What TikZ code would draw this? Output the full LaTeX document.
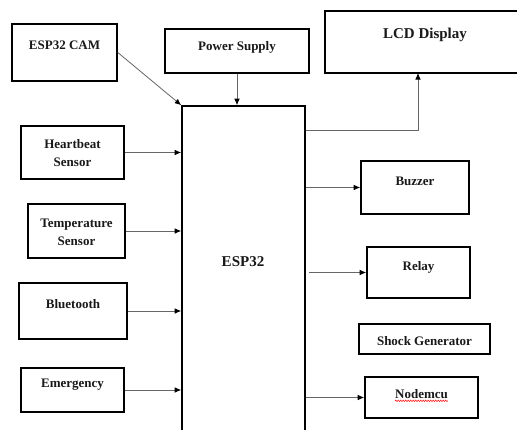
\documentclass[tikz,border=0pt]{standalone}
\usepackage{fontspec}
\setmainfont{Liberation Serif}
\usetikzlibrary{arrows.meta,decorations.pathmorphing}
\begin{document}
\begin{tikzpicture}[x=1pt,y=-1pt,
  box/.style={draw=black,line width=1.6pt,rectangle,inner sep=0pt},
  txt/.style={font=\fontsize{13}{15}\selectfont\bfseries,align=center,inner sep=0pt,text=black!90},
  bigtxt/.style={txt,font=\fontsize{15}{17}\selectfont\bfseries},
  arr/.style={draw=black!60,line width=0.8pt,-{Latex[length=6.5pt,width=5.5pt,fill=black,color=black]}}]
\useasboundingbox (0,0) rectangle (517,429);
\clip (0,0) rectangle (517,429);
\fill[white] (0,0) rectangle (517,429);
% boxes
\node[box,minimum width=105,minimum height=57] (cam) at (64.5,52.5) {};
\node[box,minimum width=144,minimum height=44] (power) at (237,51) {};
\node[box,minimum width=200,minimum height=62] (lcd) at (425,42) {};
\node[box,minimum width=123,minimum height=334] (esp) at (243.5,273) {};
\node[box,minimum width=103,minimum height=53] (hb) at (72.5,152.5) {};
\node[box,minimum width=97,minimum height=54] (temp) at (76.5,231) {};
\node[box,minimum width=108,minimum height=56] (bt) at (73,311) {};
\node[box,minimum width=103,minimum height=44] (em) at (72.5,390) {};
\node[box,minimum width=108,minimum height=53] (buz) at (415,187.5) {};
\node[box,minimum width=103,minimum height=51] (rel) at (418.5,272.5) {};
\node[box,minimum width=131,minimum height=30] (shock) at (424.5,339) {};
\node[box,minimum width=113,minimum height=41] (nmcu) at (421.5,397.5) {};
% texts
\node[txt] (camt) at (64.5,45) {ESP32 CAM};
\node[txt] (powert) at (237,47) {Power Supply};
\node[bigtxt] (lcdt) at (425,35) {LCD Display};
\node[bigtxt] (espt) at (243,262) {ESP32};
\node[txt] (hbt) at (72.5,153) {Heartbeat\\[3pt]Sensor};
\node[txt] (tempt) at (76.5,232) {Temperature\\[3pt]Sensor};
\node[txt] (btt) at (73,304) {Bluetooth};
\node[txt] (emt) at (72.5,385) {Emergency};
\node[txt] (buzt) at (415,181) {Buzzer};
\node[txt] (relt) at (418.5,267) {Relay};
\node[txt] (shockt) at (424.5,341) {Shock Generator};
\node[txt] (nmcut) at (421.5,394) {Nodemcu};
\draw[red,line width=0.5pt,decorate,decoration={snake,amplitude=0.7pt,segment length=2.5pt}]
  (nmcut.south west) ++(0,2) -- ++(53,0);
% connectors
\coordinate (lcdin) at (418,73);
\draw[arr] (cam.east) -- (esp.north west);
\draw[arr] (power.south) -- (power.south |- esp.north);
\draw[arr] (esp.east |- 0,130) -| (lcdin);
\draw[arr] (hb.east) -- (hb.east -| esp.west);
\draw[arr] (temp.east) -- (temp.east -| esp.west);
\draw[arr] (bt.east) -- (bt.east -| esp.west);
\draw[arr] (em.east) -- (em.east -| esp.west);
\draw[arr] (esp.east |- buz.west) -- (buz.west);
\draw[arr] ([xshift=3pt]esp.east |- rel.west) -- (rel.west);
\draw[arr] (esp.east |- nmcu.west) -- (nmcu.west);
\end{tikzpicture}
\end{document}
